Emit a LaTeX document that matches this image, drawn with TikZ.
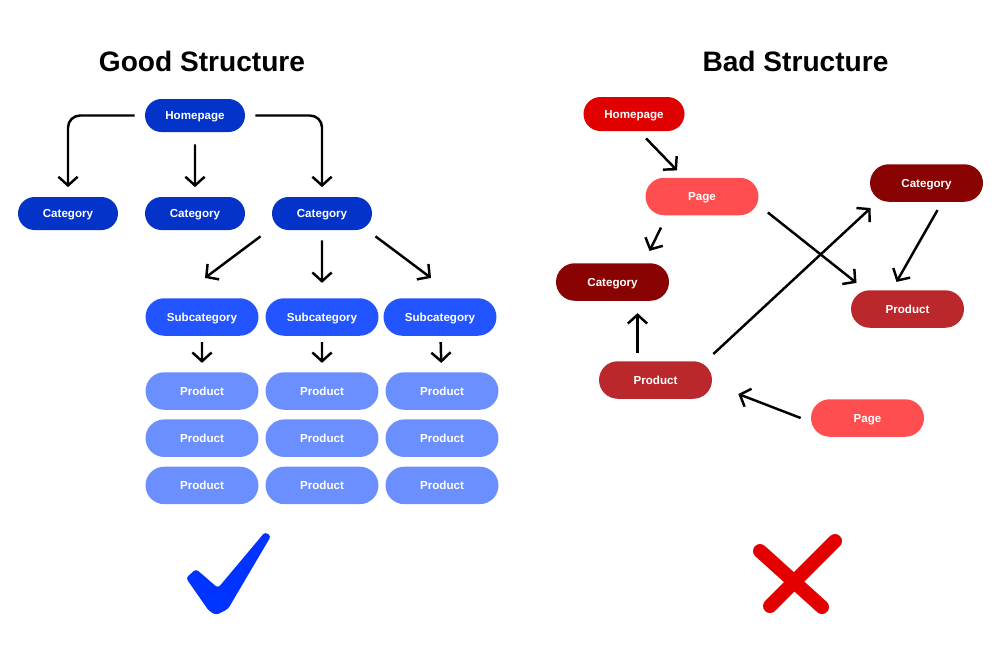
\documentclass[tikz,border=0pt]{standalone}
\usepackage{fontspec}
\setmainfont{Liberation Sans}
\usetikzlibrary{arrows.meta,positioning,shapes.misc}
\definecolor{gooddark}{RGB}{3,51,200}
\definecolor{goodmid}{RGB}{34,85,255}
\definecolor{goodlight}{RGB}{108,143,255}
\definecolor{goodcheck}{RGB}{0,51,255}
\definecolor{badhome}{RGB}{224,0,0}
\definecolor{badpage}{RGB}{255,78,80}
\definecolor{badcat}{RGB}{138,3,3}
\definecolor{badprod}{RGB}{186,40,43}
\definecolor{badcross}{RGB}{228,0,0}

\begin{document}
\begin{tikzpicture}[
    x=0.02cm, y=-0.02cm,
    pill/.style={rounded rectangle, inner sep=0pt, text=white,
                 text height=4.75pt, text depth=0pt,
                 font=\fontsize{6.6}{8}\selectfont\bfseries},
    small/.style={pill, minimum width=2cm, minimum height=0.66cm},
    wide/.style={pill, minimum width=2.26cm, minimum height=0.75cm},
    title/.style={font=\fontsize{16}{20}\selectfont\bfseries},
    arr/.style={-{Straight Barb[length=5pt,width=11pt]}, line width=1.4pt, black},
    elbow/.style={arr, rounded corners=0.24cm, shorten <=0.2cm, shorten >=0.19cm}
  ]
  \useasboundingbox (0,0) rectangle (1000,657);

  % good structure
  \node[title] (tgood) at (202,61) {Good Structure};
  \node[small, fill=gooddark] (home) at (195,115.5) {Homepage};
  \node[small, fill=gooddark] (cat1) at (68,213.5) {Category};
  \node[small, fill=gooddark] (cat2) at (195,213.5) {Category};
  \node[small, fill=gooddark] (cat3) at (322,213.5) {Category};
  \node[wide, fill=goodmid] (sub1) at (202,317) {Subcategory};
  \node[wide, fill=goodmid] (sub2) at (322,317) {Subcategory};
  \node[wide, fill=goodmid] (sub3) at (440,317) {Subcategory};
  \node[wide, fill=goodlight] (p11) at (202,391) {Product};
  \node[wide, fill=goodlight, below=0.18cm of p11] (p12) {Product};
  \node[wide, fill=goodlight, below=0.18cm of p12] (p13) {Product};
  \node[wide, fill=goodlight] (p21) at (322,391) {Product};
  \node[wide, fill=goodlight, below=0.18cm of p21] (p22) {Product};
  \node[wide, fill=goodlight, below=0.18cm of p22] (p23) {Product};
  \node[wide, fill=goodlight] (p31) at (442,391) {Product};
  \node[wide, fill=goodlight, below=0.18cm of p31] (p32) {Product};
  \node[wide, fill=goodlight, below=0.18cm of p32] (p33) {Product};

  \draw[elbow] (home) -| (cat1);
  \draw[elbow] (home) -| (cat3);
  \draw[arr, shorten <=0.24cm, shorten >=0.19cm] (home) -- (cat2);
  \draw[arr] ([shift={(-28,6)}]cat3.south west) -- ([shift={(3,-20)}]sub1.north);
  \draw[arr, shorten <=0.2cm, shorten >=0.3cm] (cat3) -- (sub2);
  \draw[arr] ([shift={(20,6)}]cat3.south east) -- ([shift={(-9,-20)}]sub3.north);
  \draw[arr, shorten <=0.12cm, shorten >=0.18cm] (sub1) -- (p11);
  \draw[arr, shorten <=0.12cm, shorten >=0.18cm] (sub2) -- (p21);
  \draw[arr, shorten <=0.12cm, shorten >=0.18cm] (sub3) -- (p31);

  % check mark
  \fill[goodcheck, rounded corners=0.06cm] (186,578) -- (196,569) -- (218,588)
    -- (265,532) -- (271,536) -- (228,609) -- (216,615) -- (209,611) -- cycle;

  % bad structure
  \node[title] (tbad) at (795.5,61) {Bad Structure};
  \node[pill, fill=badhome, minimum width=2.02cm, minimum height=0.68cm] (bhome) at (634,114) {Homepage};
  \node[wide, fill=badpage] (bpage) at (702,196.5) {Page};
  \node[wide, fill=badcat] (bcatr) at (926.5,183) {Category};
  \node[wide, fill=badcat] (bcatl) at (612.5,282) {Category};
  \node[wide, fill=badprod] (bprodr) at (907.5,309) {Product};
  \node[wide, fill=badprod] (bprodl) at (655.5,380) {Product};
  \node[wide, fill=badpage] (bpageb) at (867.5,418) {Page};

  \draw[arr] ([shift={(12,7)}]bhome.south) -- ([shift={(-25,-7)}]bpage.north);
  \draw[arr] ([shift={(-41,12)}]bpage.south) -- ([shift={(37,-12)}]bcatl.north);
  \draw[arr] ([shift={(9,16)}]bpage.east) -- ([shift={(-51,-7)}]bprodr.north);
  \draw[arr] ([shift={(1,-26)}]bprodl.east) -- ([shift={(1,25)}]bcatr.west);
  \draw[arr] ([shift={(11,8)}]bcatr.south) -- ([shift={(-11,-8)}]bprodr.north);
  \draw[arr] ([shift={(-18,-8)}]bprodl.north) -- ([shift={(25,12)}]bcatl.south);
  \draw[arr] ([shift={(-10,0)}]bpageb.west) -- ([shift={(26,14)}]bprodl.east);

  % cross
  \draw[badcross, line width=0.28cm, line cap=round] (760,551) -- (822,607);
  \draw[badcross, line width=0.28cm, line cap=round] (835,541) -- (770,606);
\end{tikzpicture}
\end{document}
